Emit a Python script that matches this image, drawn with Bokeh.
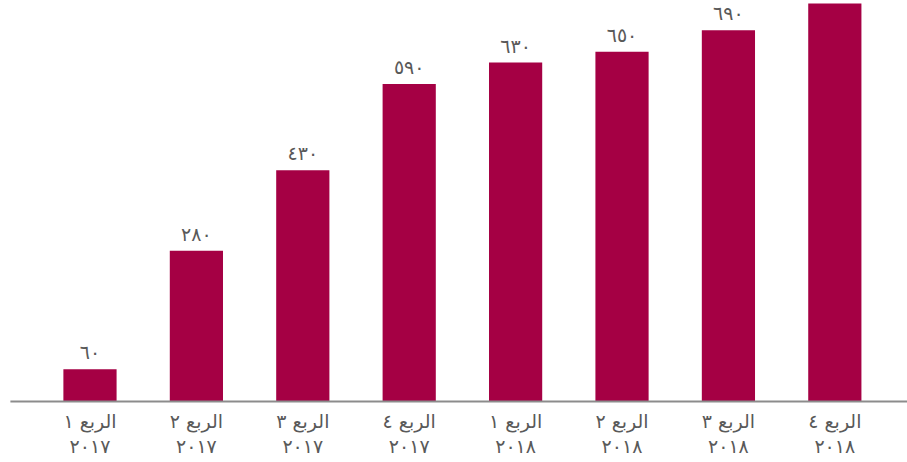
from bokeh.plotting import figure
from bokeh.models import ColumnDataSource, Range1d
from bokeh.core.properties import value
from bokeh.embed import file_html
from bokeh.resources import INLINE

quarters = ["الربع ١", "الربع ٢", "الربع ٣", "الربع ٤", "الربع ١", "الربع ٢", "الربع ٣", "الربع ٤"]
years = ["٢٠١٧", "٢٠١٧", "٢٠١٧", "٢٠١٧", "٢٠١٨", "٢٠١٨", "٢٠١٨", "٢٠١٨"]
values = [60, 280, 430, 590, 630, 650, 690, 740]
# the last bar's label lies above the visible area in the reference
value_labels = ["٦٠", "٢٨٠", "٤٣٠", "٥٩٠", "٦٣٠", "٦٥٠", "٦٩٠", ""]

xs = list(range(len(values)))
src = ColumnDataSource(dict(x=xs, v=values, vl=value_labels, q=quarters, yr=years, zero=[0] * len(xs)))

p = figure(width=907, height=462, output_backend="svg", toolbar_location=None,
           x_range=Range1d(-0.841, 7.683), y_range=Range1d(-113.4, 745.4),
           min_border=0, min_border_left=0, min_border_right=0, min_border_top=0, min_border_bottom=0)
p.axis.visible = False
p.grid.visible = False
p.outline_line_color = None
p.background_fill_color = "white"
p.border_fill_color = "white"

p.vbar(x="x", top="v", width=0.5, bottom=0, source=src, fill_color="#a50044", line_color=None)
p.line(x=[-0.748, 7.683], y=[0, 0], line_color="#8c8c8c", line_width=2)

font = value("DejaVu Sans")
p.text(x="x", y="v", text="vl", source=src, text_align="center", text_baseline="bottom",
       y_offset=-6, text_font=font, text_font_size="19px", text_color="#595959")
p.text(x="x", y="zero", text="q", source=src, text_align="center", text_baseline="middle",
       y_offset=20, text_font=font, text_font_size="19px", text_color="#595959")
p.text(x="x", y="zero", text="yr", source=src, text_align="center", text_baseline="middle",
       y_offset=45, text_font=font, text_font_size="19px", text_color="#595959")

open("out.html", "w").write(file_html(p, INLINE))
